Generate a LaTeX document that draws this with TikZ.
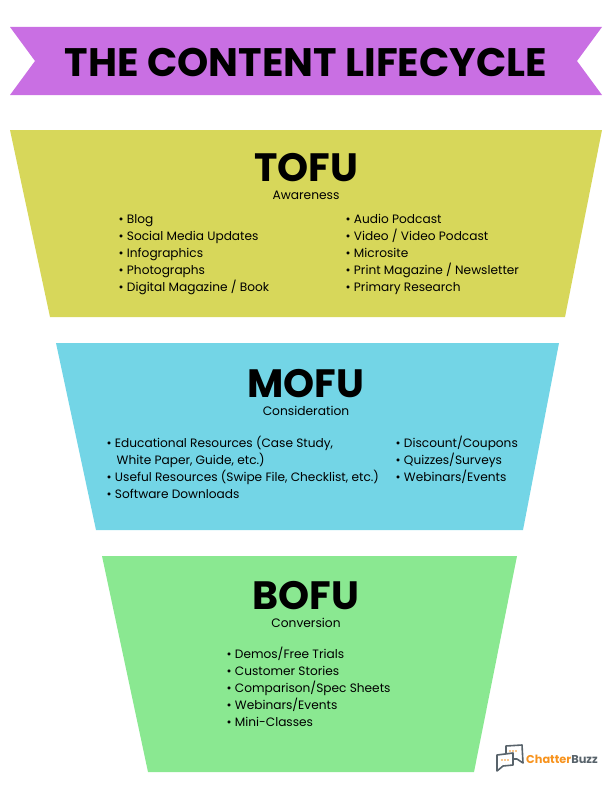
\documentclass[tikz,border=0pt]{standalone}
\usepackage{fontspec}
\setmainfont{Poppins}
\usepackage{xcolor}
\definecolor{bannerc}{HTML}{C96FE3}
\definecolor{tofuc}{HTML}{D7D75A}
\definecolor{mofuc}{HTML}{73D5E6}
\definecolor{bofuc}{HTML}{8AE891}
\definecolor{buzzo}{HTML}{F7931E}
\definecolor{buzzg}{HTML}{58636B}

\begin{document}
\begin{tikzpicture}[
  x=1bp, y=-1bp,
  head/.style={font=\fontsize{39.7}{40}\selectfont\bfseries, text=black, inner sep=0pt, text height=28bp, text depth=0pt},
  title/.style={font=\fontsize{39.9}{40}\selectfont\bfseries, text=black, inner sep=0pt},
  stage/.style={font=\fontsize{12.3}{14}\selectfont, text=black, inner sep=0pt, text height=9bp, text depth=3bp},
  list/.style={font=\fontsize{12.2}{17bp}\selectfont, text=black, inner sep=0pt, align=left, anchor=north west},
  bubble/.style={draw=buzzg, line width=1.6bp, fill=white, line join=round},
  buzzdot/.style={fill=buzzo, inner sep=0pt, minimum size=1.6bp, circle}
]
\useasboundingbox (0,0) rectangle (612,792);

% banner
\fill[bannerc] (10,27) -- (602,27) -- (577,61) -- (602,95) -- (10,95) -- (35,61) -- cycle;
\node[title] (lifecycle) at (306,62) {THE CONTENT LIFECYCLE};

% funnel
\fill[tofuc] (10,130) -- (602,130) -- (565,317) -- (50,317) -- cycle;
\fill[mofuc] (56,343) -- (559,343) -- (523,530) -- (96,530) -- cycle;
\fill[bofuc] (102,556) -- (517,556) -- (474,772) -- (148,772) -- cycle;

\node[head] (tofu) at (306,167) {TOFU};
\node[stage] (aware) at (306,196) {Awareness};
\node[list] (tofua) at (118.5,214) {• Blog\\• Social Media Updates\\• Infographics\\• Photographs\\• Digital Magazine / Book};
\node[list] (tofub) at (345.5,214) {• Audio Podcast\\• Video / Video Podcast\\• Microsite\\• Print Magazine / Newsletter\\• Primary Research};

\node[head] (mofu) at (306,383) {MOFU};
\node[stage] (consid) at (306,412) {Consideration};
\node[list] (mofua) at (106.5,436) {• Educational Resources (Case Study,\\\hspace*{10bp}White Paper, Guide, etc.)\\• Useful Resources (Swipe File, Checklist, etc.)\\• Software Downloads};
\node[list] (mofub) at (395.5,436) {• Discount/Coupons\\• Quizzes/Surveys\\• Webinars/Events};

\node[head] (bofu) at (306,595) {BOFU};
\node[stage] (conver) at (306,624) {Conversion};
\node[list] (bofua) at (226.5,647) {• Demos/Free Trials\\• Customer Stories\\• Comparison/Spec Sheets\\• Webinars/Events\\• Mini-Classes};

% logo
\draw[bubble] (506,746) -- (522,745) -- (523,763) -- (517,759) -- (506,759) -- cycle;
\draw[bubble] (497,755) -- (513,753) -- (513,765) -- (503,766) -- (497,771) -- cycle;
\foreach \dx in {0,3,6} {
  \node[buzzdot] at (510+\dx,751) {};
  \node[buzzdot] at (502+\dx,760) {};
}
\node[font=\fontsize{11.4}{11}\selectfont\bfseries, inner sep=0pt, anchor=west] (buzz) at (526,759) {\textcolor{buzzo}{Chatter}\textcolor{buzzg}{Buzz}};
\end{tikzpicture}
\end{document}
